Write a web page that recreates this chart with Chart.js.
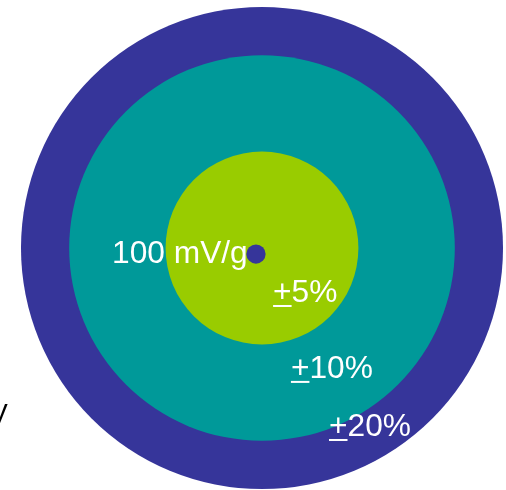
<!DOCTYPE html>
<html>
<head>
<meta charset="utf-8">
<script src="https://cdn.jsdelivr.net/npm/chart.js@4"></script>
<style>
  html, body { margin: 0; padding: 0; background: #ffffff; }
  #wrap { width: 506px; height: 490px; }
</style>
</head>
<body>
<div id="wrap"><canvas id="c" width="506" height="490"></canvas></div>
<script>
// ---- data (outer ring radius = 100 units) ----
const zoneNames   = ['±20%', '±10%', '±5%', '100 mV/g'];
const zoneRadius  = [100, 80, 40, 4];
const zoneCenterX = [0, 0, 0, -2.5];
const zoneCenterY = [0, 0, 0, -2.5];

// ---- styles / layout ----
const zoneColors = ['#36359a', '#009999', '#99cc00', '#36359a'];
const labelLayout = [
  { prefix: '',  text: '100 mV/g', x: -62.2, y: -6.2,  color: '#ffffff', size: 31.7 },
  { prefix: '+', text: '5%',       x: 4.6,   y: -22.4, color: '#ffffff', size: 31.7 },
  { prefix: '+', text: '10%',      x: 12.0,  y: -53.9, color: '#ffffff', size: 31.7 },
  { prefix: '+', text: '20%',      x: 27.8,  y: -78.0, color: '#ffffff', size: 31.7 },
  { prefix: '',  text: 'V',        x: -113.0, y: -72.6, color: '#000000', size: 27 }
];

const points = zoneRadius.map((r, i) => ({ x: zoneCenterX[i], y: zoneCenterY[i], r: r }));

const labelPlugin = {
  id: 'zoneLabels',
  afterDatasetsDraw(chart) {
    const ctx = chart.ctx;
    const xs = chart.scales.x, ys = chart.scales.y;
    ctx.save();
    ctx.textBaseline = 'alphabetic';
    ctx.textAlign = 'left';
    labelLayout.forEach(l => {
      ctx.font = l.size + 'px "Liberation Sans", Arial, sans-serif';
      ctx.fillStyle = l.color;
      let px = xs.getPixelForValue(l.x);
      const py = ys.getPixelForValue(l.y);
      if (l.prefix) {
        const w = ctx.measureText(l.prefix).width;
        ctx.fillText(l.prefix, px, py);
        ctx.fillRect(px, py + 3, w, 2);
        px += w;
      }
      ctx.fillText(l.text, px, py);
    });
    ctx.restore();
  }
};

new Chart(document.getElementById('c'), {
  type: 'scatter',
  data: {
    labels: zoneNames,
    datasets: [{
      label: 'zones',
      data: points,
      backgroundColor: zoneColors,
      borderWidth: 0,
      pointBorderWidth: 0,
      pointHoverRadius: ctx => radiusPx(ctx),
      pointRadius: ctx => radiusPx(ctx),
      clip: false
    }]
  },
  options: {
    responsive: false,
    animation: false,
    events: [],
    layout: { padding: 0 },
    plugins: { legend: { display: false }, tooltip: { enabled: false } },
    scales: {
      x: { type: 'linear', display: false, min: -108.71, max: 101.24 },
      y: { type: 'linear', display: false, min: -100.41, max: 102.90 }
    }
  },
  plugins: [labelPlugin]
});

function radiusPx(ctx) {
  const s = ctx.chart.scales.x;
  const r = ctx.raw ? ctx.raw.r : 0;
  return Math.abs(s.getPixelForValue(r) - s.getPixelForValue(0));
}
</script>
</body>
</html>
